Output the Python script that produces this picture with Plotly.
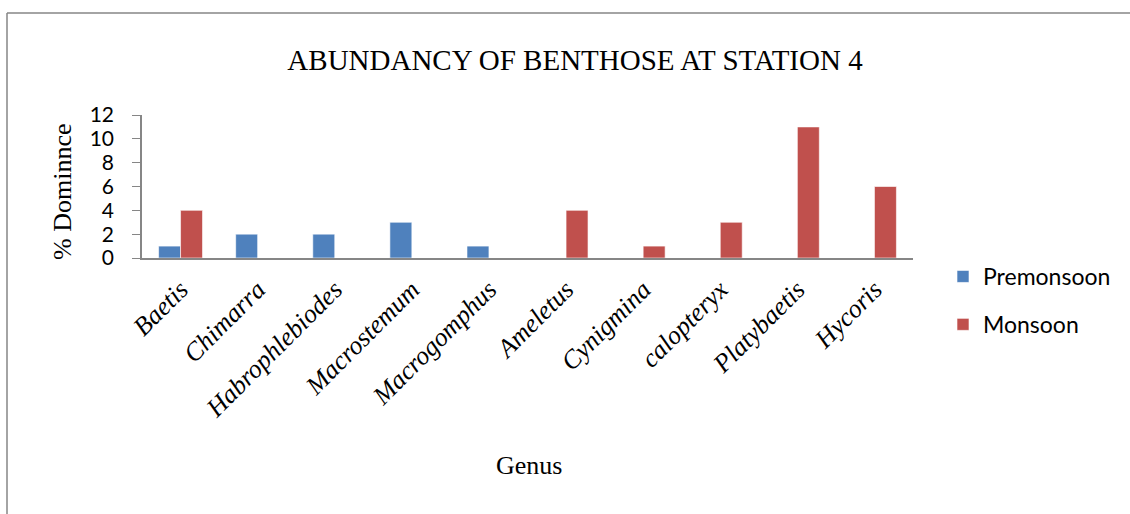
import plotly.graph_objects as go

genus = ["Baetis", "Chimarra", "Habrophlebiodes", "Macrostemum", "Macrogomphus",
         "Ameletus", "Cynigmina", "calopteryx", "Platybaetis", "Hycoris"]
premonsoon = [1, 2, 2, 3, 1, 0, 0, 0, 0, 0]
monsoon = [4, 0, 0, 0, 0, 4, 1, 3, 11, 6]
y_ticks = [0, 2, 4, 6, 8, 10, 12]

W, H = 1130, 514
L, R, T, B = 142, 913, 115, 258  # plot area pixel bounds
pw, ph = R - L, B - T

def px(x):
    return (x - L) / pw

def py(y):
    return (B - y) / ph

fig = go.Figure()
fig.add_bar(x=genus, y=premonsoon, name="Premonsoon", legendgroup="a",
            marker=dict(color="#4F81BD", line=dict(color="rgba(255,255,255,0.6)", width=1)))
fig.add_bar(x=genus, y=monsoon, name="Monsoon", legendgroup="b",
            marker=dict(color="#C0504D", line=dict(color="rgba(255,255,255,0.6)", width=1)))

fig.update_layout(
    width=W, height=H,
    margin=dict(l=L, r=W - R, t=T, b=H - B, pad=0),
    paper_bgcolor="white", plot_bgcolor="white",
    barmode="group", bargap=0.43, bargroupgap=0,
    showlegend=True,
    legend=dict(x=px(943), y=py(255), xanchor="left", yanchor="top",
                font=dict(family="Lato", size=23, color="#000"),
                traceorder="grouped", tracegroupgap=15,
                itemwidth=30, bgcolor="rgba(0,0,0,0)"),
    title=dict(text="ABUNDANCY OF BENTHOSE AT STATION 4",
               font=dict(family="Liberation Serif", size=29, color="#000"),
               x=575 / W, xanchor="center", y=1 - 60 / H, yanchor="middle"),
    xaxis=dict(showline=True, linecolor="#868686", linewidth=2, ticks="",
               tickangle=-45, showgrid=False, ticklabelstandoff=4,
               tickfont=dict(family="Liberation Serif", size=26, color="#000", style="italic")),
    yaxis=dict(range=[0, 12], tickvals=y_ticks, showline=True, linecolor="#868686",
               linewidth=1.5, ticks="outside", ticklen=8, tickcolor="#868686",
               ticklabelstandoff=14,
               showgrid=False, zeroline=False,
               tickfont=dict(family="Lato", size=21, color="#000")),
    annotations=[
        dict(text="% Dominnce", xref="paper", yref="paper", x=px(62), y=py(192),
             xanchor="center", yanchor="middle", textangle=-90, showarrow=False,
             font=dict(family="Liberation Serif", size=26, color="#000")),
        dict(text="Genus", xref="paper", yref="paper", x=px(529), y=py(465),
             xanchor="center", yanchor="middle", showarrow=False,
             font=dict(family="Liberation Serif", size=26, color="#000")),
    ],
    shapes=[
        dict(type="line", xref="paper", yref="paper", x0=px(7), x1=px(7), y0=py(13), y1=py(520),
             line=dict(color="#868686", width=1.5)),
        dict(type="line", xref="paper", yref="paper", x0=px(7), x1=px(1135), y0=py(13), y1=py(13),
             line=dict(color="#868686", width=1.5)),
    ],
)

fig.write_html("out.html", config={"displayModeBar": False},
               post_script="document.body.style.margin='0';document.body.style.overflow='hidden';")
